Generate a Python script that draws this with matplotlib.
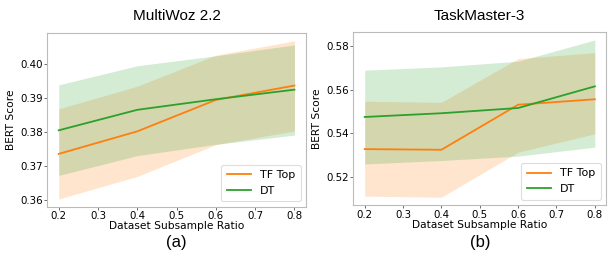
import matplotlib
matplotlib.use("Agg")
import matplotlib.pyplot as plt

ratios = [0.2, 0.4, 0.6, 0.8]

# MultiWoz 2.2
mw_tf = [0.3736, 0.3802, 0.3894, 0.3936]
mw_tf_lo = [0.3604, 0.3670, 0.3763, 0.3803]
mw_tf_hi = [0.3868, 0.3934, 0.4025, 0.4067]
mw_dt = [0.3805, 0.3865, 0.3896, 0.3924]
mw_dt_lo = [0.3673, 0.3731, 0.3764, 0.3791]
mw_dt_hi = [0.3938, 0.3994, 0.4023, 0.4055]

# TaskMaster-3
tm_tf = [0.5328, 0.5325, 0.5531, 0.5556]
tm_tf_lo = [0.5113, 0.5108, 0.5314, 0.5398]
tm_tf_hi = [0.5547, 0.5542, 0.5742, 0.5769]
tm_dt = [0.5475, 0.5492, 0.5516, 0.5615]
tm_dt_lo = [0.5260, 0.5276, 0.5296, 0.5337]
tm_dt_hi = [0.5689, 0.5704, 0.5730, 0.5827]

orange = "#ff7f0e"
green = "#2ca02c"

fig = plt.figure(figsize=(6.1, 2.57), dpi=100)
ax1 = fig.add_axes([0.077, 0.195, 0.425, 0.677])
ax2 = fig.add_axes([0.579, 0.202, 0.415, 0.673])


def panel(ax, tf, tf_lo, tf_hi, dt, dt_lo, dt_hi, title, yticks, tag):
    ax.fill_between(ratios, tf_lo, tf_hi, color=orange, alpha=0.2, linewidth=0)
    ax.fill_between(ratios, dt_lo, dt_hi, color=green, alpha=0.2, linewidth=0)
    ax.plot(ratios, tf, color=orange, lw=1.3, label="TF Top")
    ax.plot(ratios, dt, color=green, lw=1.3, label="DT")
    ax.set_xticks([0.2, 0.3, 0.4, 0.5, 0.6, 0.7, 0.8])
    ax.set_yticks(yticks)
    ax.set_yticklabels(["%.2f" % v for v in yticks])
    ax.tick_params(labelsize=7.4, length=2, width=0.6, color="#555555", pad=1.2)
    for s in ax.spines.values():
        s.set_color("#bbbbbb")
        s.set_linewidth(0.8)
    ax.set_xlabel("Dataset Subsample Ratio", fontsize=7.7, labelpad=0)
    ax.set_ylabel("BERT Score", fontsize=7.7, labelpad=3)
    ax.set_title(title, fontsize=11, family="Liberation Sans", pad=9)
    leg = ax.legend(loc="lower right", fontsize=8, handlelength=2.2,
                    framealpha=1, edgecolor="#dddddd", borderpad=0.5)
    leg.get_frame().set_linewidth(0.8)
    bb = ax.get_position()
    fig.text((bb.x0 + bb.x1) / 2, 1 - 243 / 257, tag, ha="center",
             va="center", fontsize=12, family="Liberation Sans")


panel(ax1, mw_tf, mw_tf_lo, mw_tf_hi, mw_dt, mw_dt_lo, mw_dt_hi,
      "MultiWoz 2.2", [0.36, 0.37, 0.38, 0.39, 0.40], "(a)")
panel(ax2, tm_tf, tm_tf_lo, tm_tf_hi, tm_dt, tm_dt_lo, tm_dt_hi,
      "TaskMaster-3", [0.52, 0.54, 0.56, 0.58], "(b)")

fig.savefig("out.png", dpi=100)
